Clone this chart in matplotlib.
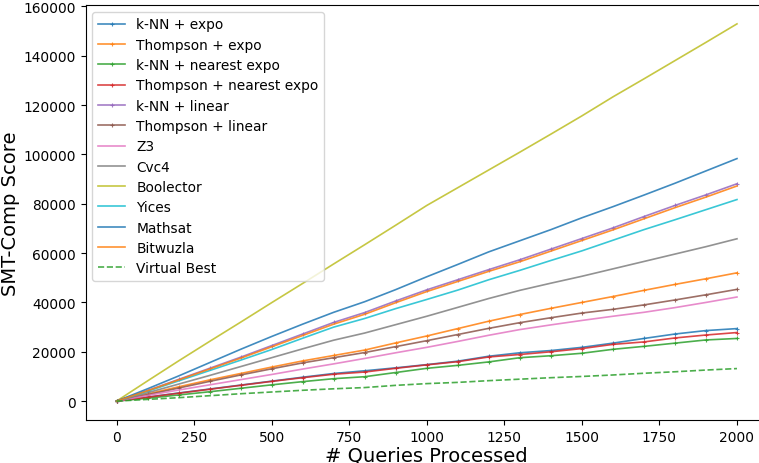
import matplotlib
matplotlib.use("Agg")
import matplotlib.pyplot as plt

queries = [0, 100, 200, 300, 400, 500, 600, 700, 800, 900, 1000,
           1100, 1200, 1300, 1400, 1500, 1600, 1700, 1800, 1900, 2000]

# values in thousands
knn_expo = [0, 1.6, 3.3, 4.9, 6.5, 8.1, 9.7, 11.2, 12.3, 13.5, 14.8, 16.2, 18.2, 19.6, 20.5, 21.8, 23.5, 25.4, 27.2, 28.6, 29.4]
thompson_expo = [0, 2.9, 5.8, 8.6, 11.2, 13.8, 16.3, 18.5, 20.7, 23.6, 26.4, 29.4, 32.4, 35.1, 37.6, 40.0, 42.4, 44.9, 47.3, 49.6, 52.0]
knn_nearest = [0, 1.2, 2.5, 3.8, 5.2, 6.6, 7.9, 9.1, 9.9, 11.6, 13.3, 14.5, 15.9, 17.6, 18.4, 19.4, 21.0, 22.2, 23.5, 24.8, 25.4]
thompson_nearest = [0, 1.6, 3.2, 4.8, 6.4, 8.0, 9.5, 10.9, 11.8, 13.3, 14.7, 16.0, 17.9, 18.9, 20.0, 21.3, 23.0, 24.0, 25.6, 26.8, 27.8]
knn_linear = [0, 4.3, 8.8, 13.3, 17.8, 22.5, 27.2, 31.9, 35.9, 40.6, 45.1, 49.2, 53.3, 57.3, 61.6, 65.9, 70.2, 74.8, 79.3, 83.6, 88.1]
thompson_linear = [0, 2.6, 5.3, 8.0, 10.6, 13.1, 15.5, 17.6, 19.7, 22.1, 24.5, 27.0, 29.5, 31.8, 33.8, 35.7, 37.2, 39.0, 41.0, 43.1, 45.3]
z3 = [0, 2.3, 4.5, 6.6, 8.7, 10.8, 13.0, 15.1, 17.3, 19.6, 21.8, 24.2, 26.7, 29.0, 30.9, 32.7, 34.4, 36.0, 37.9, 40.0, 42.2]
cvc4 = [0, 3.4, 6.9, 10.4, 14.0, 17.6, 21.2, 24.7, 27.6, 31.0, 34.4, 38.0, 41.6, 44.9, 47.8, 50.6, 53.6, 56.6, 59.6, 62.6, 65.8]
boolector = [0, 8.2, 16.3, 24.2, 32.0, 39.9, 47.7, 55.6, 63.4, 71.3, 79.3, 86.5, 93.7, 100.9, 108.2, 115.6, 123.3, 130.6, 138.0, 145.4, 152.9]
yices = [0, 4.0, 8.2, 12.4, 16.6, 20.9, 25.5, 30.0, 33.5, 37.5, 41.2, 45.0, 49.2, 53.0, 57.0, 60.9, 65.2, 69.5, 73.5, 77.6, 81.7]
mathsat = [0, 5.0, 10.2, 15.6, 21.0, 26.2, 31.2, 36.0, 40.3, 45.2, 50.4, 55.4, 60.5, 65.0, 69.5, 74.3, 78.8, 83.5, 88.3, 93.3, 98.3]
bitwuzla = [0, 4.2, 8.6, 13.0, 17.4, 22.0, 26.6, 31.2, 35.2, 39.9, 44.4, 48.5, 52.6, 56.5, 60.8, 65.1, 69.4, 73.9, 78.4, 82.7, 87.2]
virtual_best = [0, 0.7, 1.4, 2.2, 3.0, 3.7, 4.4, 5.0, 5.5, 6.4, 7.1, 7.6, 8.3, 8.9, 9.5, 10.0, 10.6, 11.3, 11.9, 12.6, 13.2]

series = [
    ("k-NN + expo", knn_expo, True),
    ("Thompson + expo", thompson_expo, True),
    ("k-NN + nearest expo", knn_nearest, True),
    ("Thompson + nearest expo", thompson_nearest, True),
    ("k-NN + linear", knn_linear, True),
    ("Thompson + linear", thompson_linear, True),
    ("Z3", z3, False),
    ("Cvc4", cvc4, False),
    ("Boolector", boolector, False),
    ("Yices", yices, False),
    ("Mathsat", mathsat, False),
    ("Bitwuzla", bitwuzla, False),
]

fig = plt.figure(figsize=(7.59, 4.64), dpi=100)
ax = fig.add_axes([85.5 / 759, (464 - 421) / 464, (768 - 85.5) / 759, (421 - 6) / 464])

for label, vals, mark in series:
    y = [v * 1000 for v in vals]
    if mark:
        ax.plot(queries, y, lw=1.2, alpha=0.85, marker='+', markersize=3, markeredgewidth=0.8, label=label)
    else:
        ax.plot(queries, y, lw=1.2, alpha=0.85, label=label)
ax.plot(queries, [v * 1000 for v in virtual_best], lw=1.2, alpha=0.85, ls='--', label="Virtual Best")

tick_fs = 9.9
ax.tick_params(labelsize=tick_fs)
ax.set_xticks([0, 250, 500, 750, 1000, 1250, 1500, 1750, 2000])
ax.set_yticks([0, 20000, 40000, 60000, 80000, 100000, 120000, 140000, 160000])
ax.set_xlabel("# Queries Processed", fontsize=14, labelpad=1)
ax.set_ylabel("SMT-Comp Score", fontsize=14, labelpad=2)
ax.legend(loc='upper left', fontsize=tick_fs, labelspacing=0.46)

fig.savefig("out.png", dpi=100)
